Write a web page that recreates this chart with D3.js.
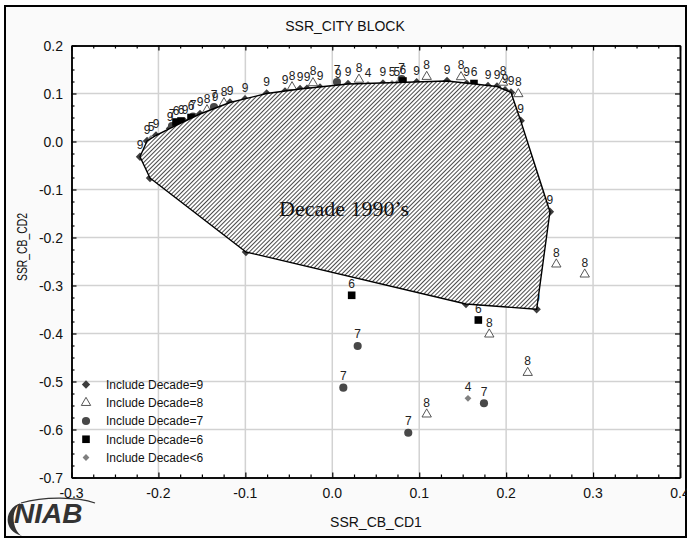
<!DOCTYPE html>
<html>
<head>
<meta charset="utf-8">
<script src="https://cdn.jsdelivr.net/npm/d3@7"></script>
<style>
  html, body { margin: 0; padding: 0; background: #ffffff; }
  svg { display: block; }
  text { font-family: "Liberation Sans", Arial, sans-serif; fill: #111; }
</style>
</head>
<body>
<svg id="chart" width="687" height="538"></svg>
<script>
// ---- axis ticks ----
const xTicks = [-0.3, -0.2, -0.1, 0.0, 0.1, 0.2, 0.3, 0.4];
const yTicks = [0.2, 0.1, 0.0, -0.1, -0.2, -0.3, -0.4, -0.5, -0.6, -0.7];

// ---- decade 9 (its convex hull is the shaded "Decade 1990's" region) ----
const d9x = [-0.2212, -0.2131, -0.2028, -0.1867, -0.1522, -0.1177, -0.0755, -0.0371, 0.0181, 0.1320,
             0.1895, 0.2056, 0.2167, 0.2504, 0.2351, 0.1538, -0.0993, -0.2097,
             -0.1694, -0.1349, -0.1004, -0.0544, -0.0141, 0.0583, 0.0971, 0.1546, 0.1791, 0.1987, 0.0066, -0.0291];
const d9y = [-0.0317, 0.0010, 0.0125, 0.0271, 0.0573, 0.0813, 0.1000, 0.1094, 0.1198, 0.1260,
             0.1146, 0.1021, 0.0433, -0.1463, -0.3496, -0.3385, -0.2302, -0.0760,
             0.0413, 0.0683, 0.0879, 0.1042, 0.1125, 0.1208, 0.1235, 0.1202, 0.1156, 0.1067, 0.1167, 0.1102];

// ---- decade 8 ----
const d8x = [0.1086, 0.2140, 0.2577, 0.2904, 0.1806, 0.2248, 0.1086, 0.1481, 0.1964, 0.0307, -0.1441, -0.0222, -0.0463, -0.1246];
const d8y = [0.1350, 0.0990, -0.2558, -0.2767, -0.4017, -0.4817, -0.5683, 0.1344, 0.1229, 0.1292, 0.0656, 0.1219, 0.1135, 0.0802];

// ---- decade 7 ----
const d7x = [0.0292, 0.0127, 0.1745, 0.0874, 0.0798, -0.1602, -0.1361, -0.1844, 0.0054];
const d7y = [-0.4260, -0.5129, -0.5454, -0.6067, 0.1302, 0.0521, 0.0719, 0.0323, 0.1240];

// ---- decade 6 ----
const d6x = [0.0223, 0.1680, -0.1798, -0.1740, -0.1625, 0.1630, 0.0813];
const d6y = [-0.3204, -0.3719, 0.0406, 0.0427, 0.0500, 0.1208, 0.1260];

// ---- decades before 6 ----
const dLtX = [0.1561, -0.2085, 0.0411, 0.0687, 0.0744];
const dLtY = [-0.5350, 0.0063, 0.1188, 0.1208, 0.1208];
const dLtLabel = ["4", "5", "4", "5", "5"];

const legendLabels = ["Include Decade=9", "Include Decade=8", "Include Decade=7", "Include Decade=6", "Include Decade<6"];

const svg = d3.select("#chart");

const x = d3.scaleLinear().domain([-0.3, 0.4]).range([71.5, 680]);
const y = d3.scaleLinear().domain([-0.7, 0.2]).range([477.5, 45.5]);
const [x0, x1] = x.range();
const [y1, y0] = y.range();

// page background and outer frame
svg.append("rect").attr("x", 5).attr("y", 6).attr("width", 681).attr("height", 531)
  .attr("fill", "#fafafa").attr("stroke", "#000").attr("stroke-width", 2);

// plot area
svg.append("rect").attr("x", x0).attr("y", y0).attr("width", x1 - x0).attr("height", y1 - y0)
  .attr("fill", "#ffffff");

// hatch for the decade polygon
const defs = svg.append("defs");
const pat = defs.append("pattern").attr("id", "hatch").attr("patternUnits", "userSpaceOnUse")
  .attr("width", 3).attr("height", 3).attr("patternTransform", "rotate(45)");
pat.append("rect").attr("width", 3).attr("height", 3).attr("fill", "#ffffff");
pat.append("line").attr("x1", 0.5).attr("y1", 0).attr("x2", 0.5).attr("y2", 3)
  .attr("stroke", "#4a4a4a").attr("stroke-width", 1);

// grid
const grid = svg.append("g");
grid.selectAll(".gx").data(xTicks.slice(1, -1)).join("line")
  .attr("x1", d => x(d)).attr("x2", d => x(d)).attr("y1", y0).attr("y2", y1)
  .attr("stroke", "#d2d2d2").attr("stroke-width", 1.5);
grid.selectAll(".gy").data(yTicks.slice(1, -1)).join("line")
  .attr("y1", d => y(d)).attr("y2", d => y(d)).attr("x1", x0).attr("x2", x1)
  .attr("stroke", "#d2d2d2").attr("stroke-width", 1.5);

// axes with inward ticks on all four sides
const minorX = d3.range(-0.3, 0.4001, 0.025).filter(v => Math.abs(Math.round(v * 10) - v * 10) > 1e-6);
const minorY = d3.range(-0.7, 0.2001, 0.025).filter(v => Math.abs(Math.round(v * 10) - v * 10) > 1e-6);

function axisLines(gen, scale, major, minor, tx, ty) {
  const g1 = svg.append("g").attr("transform", `translate(${tx},${ty})`)
    .call(gen(scale).tickValues(major).tickSizeInner(-5).tickSizeOuter(0).tickFormat(""));
  const g2 = svg.append("g").attr("transform", `translate(${tx},${ty})`)
    .call(gen(scale).tickValues(minor).tickSizeInner(-3).tickSizeOuter(0).tickFormat(""));
  [g1, g2].forEach(g => {
    g.selectAll("path").attr("stroke", "#000").attr("stroke-width", 1.5);
    g.selectAll("line").attr("stroke", "#000").attr("stroke-width", 1.2);
  });
}
axisLines(d3.axisBottom, x, xTicks, minorX, 0, y1);
axisLines(d3.axisTop, x, xTicks, minorX, 0, y0);
axisLines(d3.axisLeft, y, yTicks, minorY, x0, 0);
axisLines(d3.axisRight, y, yTicks, minorY, x1, 0);

// tick labels
svg.append("g").selectAll("text").data(xTicks).join("text")
  .attr("x", d => x(d)).attr("y", 497.5).attr("text-anchor", "middle")
  .style("font-size", "14px").text(d => d.toFixed(1));
svg.append("g").selectAll("text").data(yTicks).join("text")
  .attr("x", 63).attr("y", d => y(d)).attr("dy", "0.36em").attr("text-anchor", "end")
  .style("font-size", "14px").text(d => d.toFixed(1));

// titles
svg.append("text").attr("x", 345).attr("y", 31).attr("text-anchor", "middle")
  .style("font-size", "14px").text("SSR_CITY BLOCK");
svg.append("text").attr("x", 376).attr("y", 527).attr("text-anchor", "middle")
  .style("font-size", "14px").text("SSR_CB_CD1");
svg.append("text").attr("transform", "translate(27,247) rotate(-90)").attr("text-anchor", "middle")
  .attr("textLength", 68).attr("lengthAdjust", "spacingAndGlyphs")
  .style("font-size", "14px").text("SSR_CB_CD2");

// marker shapes
const diamond = (s) => `M0,${-s}L${s},0L0,${s}L${-s},0Z`;
const shapes = {
  d9: { path: diamond(4.2), fill: "#3d3d3d", stroke: "none" },
  d8: { path: d3.symbol(d3.symbolTriangle, 38)(), fill: "#ffffff", stroke: "#444" },
  d7: { path: d3.symbol(d3.symbolCircle, 52)(), fill: "#484848", stroke: "none" },
  d6: { path: d3.symbol(d3.symbolSquare, 58)(), fill: "#000000", stroke: "none" },
  dLt: { path: diamond(3.4), fill: "#808080", stroke: "none" }
};

const series = [
  { xs: d9x, ys: d9y, labels: d9x.map(() => "9"), shape: shapes.d9 },
  { xs: d8x, ys: d8y, labels: d8x.map(() => "8"), shape: shapes.d8 },
  { xs: d7x, ys: d7y, labels: d7x.map(() => "7"), shape: shapes.d7 },
  { xs: d6x, ys: d6y, labels: d6x.map(() => "6"), shape: shapes.d6 },
  { xs: dLtX, ys: dLtY, labels: dLtLabel, shape: shapes.dLt }
];

// points and their labels, drawn beneath the shaded region
const marks = svg.append("g");
const labelsG = svg.append("g");
series.forEach(s => {
  const data = s.xs.map((v, i) => ({ x: v, y: s.ys[i], label: s.labels[i] }));
  marks.append("g").selectAll("path").data(data).join("path")
    .attr("transform", d => `translate(${x(d.x)},${y(d.y)})`)
    .attr("d", s.shape.path).attr("fill", s.shape.fill)
    .attr("stroke", s.shape.stroke).attr("stroke-width", 0.9);
  labelsG.append("g").selectAll("text").data(data).join("text")
    .attr("x", d => x(d.x)).attr("y", d => y(d.y) - 7.5).attr("text-anchor", "middle")
    .style("font-size", "12px").style("fill", "#222").text(d => d.label);
});

// hull of decade 9 on top of the points
const pts9 = d9x.map((v, i) => [x(v), y(d9y[i])]);
const hull = d3.polygonHull(pts9);
svg.append("path").attr("d", "M" + hull.map(p => p.join(",")).join("L") + "Z")
  .attr("fill", "url(#hatch)").attr("stroke", "#000").attr("stroke-width", 1.4)
  .attr("stroke-linejoin", "round");

svg.append("text").attr("x", 279).attr("y", 216)
  .style("font-family", "'Liberation Serif', 'Times New Roman', serif")
  .style("font-size", "22px").text("Decade 1990\u2019s");

// legend
const legendShapes = [shapes.d9, shapes.d8, shapes.d7, shapes.d6, shapes.dLt];
const leg = svg.append("g");
legendLabels.forEach((t, i) => {
  const ly = 384.5 + i * 18.25;
  leg.append("path").attr("transform", `translate(86,${ly})`)
    .attr("d", legendShapes[i].path).attr("fill", legendShapes[i].fill)
    .attr("stroke", legendShapes[i].stroke).attr("stroke-width", 0.9);
  leg.append("text").attr("x", 106).attr("y", ly).attr("dy", "0.36em")
    .style("font-size", "12px").text(t);
});

// NIAB logo
const logo = svg.append("g");
logo.append("path")
  .attr("d", "M21,503 C4,508 2,531 22,536 C12,530 10,510 21,503 Z")
  .attr("fill", "#333");
logo.append("path")
  .attr("d", "M21,503 C45,496 78,497 95,503")
  .attr("fill", "none").attr("stroke", "#333").attr("stroke-width", 1.3);
logo.append("text").attr("x", 14).attr("y", 523)
  .style("font-size", "28px").style("font-weight", "bold").style("font-style", "italic")
  .style("fill", "#333").text("NIAB");
</script>
</body>
</html>
